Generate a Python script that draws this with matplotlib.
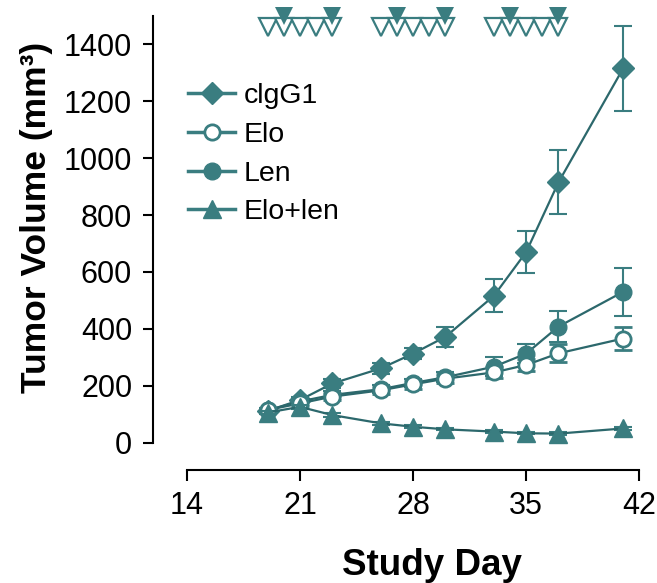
import numpy as np
import matplotlib
matplotlib.use("Agg")
import matplotlib.pyplot as plt
from matplotlib.lines import Line2D

plt.rcParams["font.family"] = ["Liberation Sans", "DejaVu Sans"]

MARK = "#3a7d80"
LINE = "#2c686c"

days = [19, 21, 23, 26, 28, 30, 33, 35, 37, 41]

cigg1 = [112, 150, 208, 261, 313, 372, 516, 670, 915, 1315]
cigg1_err = [10, 12, 15, 18, 20, 36, 58, 73, 112, 150]

elo = [115, 138, 162, 184, 205, 225, 247, 273, 314, 366]
elo_err = [8, 10, 12, 14, 15, 16, 20, 22, 32, 40]

len_ = [114, 145, 168, 188, 210, 230, 267, 313, 408, 530]
len_err = [8, 10, 12, 14, 15, 18, 33, 33, 55, 84]

combo = [106, 126, 97, 68, 56, 47, 39, 33, 32, 50]
combo_err = [6, 6, 6, 5, 5, 4, 4, 4, 4, 5]

elo_dose_days = [19, 20, 21, 22, 23, 26, 27, 28, 29, 30, 33, 34, 35, 36, 37]
len_dose_days = [20, 23, 27, 30, 34, 37]


fig = plt.figure(figsize=(6.57, 5.83), dpi=100)
ax = fig.add_axes([0.2329, 0.1938, 0.7647, 0.7791])

common = dict(color=LINE, lw=1.6, ecolor=MARK, elinewidth=1.5,
              capsize=6.5, capthick=1.5)

ax.errorbar(days, cigg1, yerr=cigg1_err, marker="D", ms=11,
            mfc=MARK, mec=MARK, zorder=3, **common)
ax.errorbar(days, len_, yerr=len_err, marker="o", ms=12,
            mfc=MARK, mec=MARK, zorder=4, **common)
ax.errorbar(days, elo, yerr=elo_err, marker="o", ms=11, mew=2,
            mfc="white", mec=MARK, zorder=5, **common)
ax.errorbar(days, combo, yerr=combo_err, marker="^", ms=13,
            mfc=MARK, mec=MARK, zorder=6, **common)

# dosing markers along the top
ax.plot(elo_dose_days, [1462] * len(elo_dose_days), ls="none", marker="v",
        ms=13, mfc="white", mec=MARK, mew=1.6, clip_on=False, zorder=6)
ax.plot(len_dose_days, [1500] * len(len_dose_days), ls="none", marker="v",
        ms=13, mfc=MARK, mec=MARK, mew=0, clip_on=False, zorder=7)

ax.set_xlim(11.9, 43.0)
ax.set_ylim(-96, 1500)
ax.set_xticks([14, 21, 28, 35, 42])
ax.set_yticks(np.arange(0, 1401, 200))

for s in ("top", "right"):
    ax.spines[s].set_visible(False)
ax.spines["left"].set_bounds(0, 1500)
ax.spines["bottom"].set_bounds(14, 42)
for s in ("left", "bottom"):
    ax.spines[s].set_linewidth(1.5)
ax.tick_params(axis="x", length=8, width=1.5, labelsize=22, pad=7)
ax.tick_params(axis="y", length=7, width=1.5, labelsize=22, pad=8)

ax.set_xlabel("Study Day", fontsize=26.5, fontweight="bold")
ax.xaxis.set_label_coords(0.556, -0.171)
ax.set_ylabel("Tumor Volume (mm³)", fontsize=25.5, fontweight="bold")
ax.yaxis.set_label_coords(-0.2, 0.555)

handles = [
    Line2D([], [], color=MARK, lw=2.5, marker="D", ms=11, mfc=MARK, mec=MARK),
    Line2D([], [], color=MARK, lw=2.5, marker="o", ms=11, mew=2,
           mfc="white", mec=MARK),
    Line2D([], [], color=MARK, lw=2.5, marker="o", ms=12, mfc=MARK, mec=MARK),
    Line2D([], [], color=MARK, lw=2.5, marker="^", ms=13, mfc=MARK, mec=MARK),
]
labels = ["clgG1", "Elo", "Len", "Elo+len"]
ax.legend(handles, labels, loc="upper left", bbox_to_anchor=(0.07, 0.852),
          frameon=False, fontsize=20.5, handlelength=1.65, handletextpad=0.3,
          labelspacing=0.45, borderpad=0, borderaxespad=0)

fig.savefig("out.png", dpi=100, facecolor="white")
